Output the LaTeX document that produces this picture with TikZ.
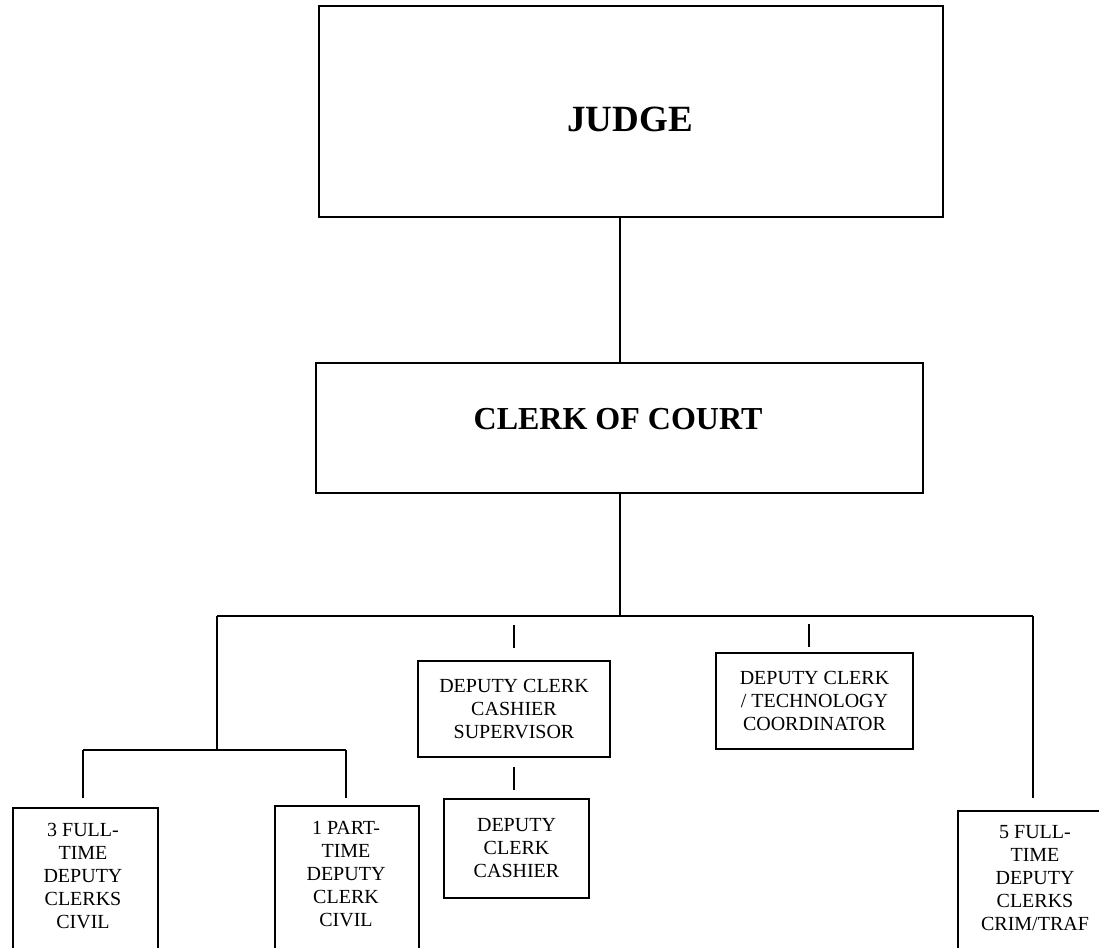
\documentclass[tikz,border=0pt]{standalone}
\usepackage{fontspec}
\setmainfont{Liberation Serif}
\begin{document}
\begin{tikzpicture}[x=1pt,y=-1pt,
  box/.style={draw, line width=2pt, inner sep=0pt},
  link/.style={line width=1.4pt},
  small/.style={font=\fontsize{20}{23}\selectfont, align=center, inner sep=0pt},
  title/.style={inner sep=0pt, anchor=base},
]
\useasboundingbox (0,0) rectangle (1099,947);
\clip (0,0) rectangle (1099,947);

% top two levels
\node[box, minimum width=624pt, minimum height=211pt] (judge) at (631,111.5) {};
\node[title, font=\fontsize{37}{44}\selectfont\bfseries] (judgetxt) at (630,131.5) {JUDGE};

\node[box, minimum width=607pt, minimum height=130pt] (clerk) at (619.5,428) {};
\node[title, font=\fontsize{32}{38}\selectfont\bfseries] (clerktxt) at (618,429.5) {CLERK OF COURT};

% connectors from the judge down to the bus
\coordinate (spine) at (620,0);
\coordinate (bus) at (620,616);
\coordinate (busL) at (217,616);
\coordinate (busR) at (1033,616);
\draw[link] (judge.south -| spine) -- (clerk.north -| spine);
\draw[link] (clerk.south -| spine) -- (bus);
\draw[link] (busL) -- (busR);

% civil branch
\coordinate (civ) at (217,750);
\coordinate (civL) at (83,750);
\coordinate (civR) at (346,750);
\coordinate (civLend) at (83,798);
\coordinate (civRend) at (346,798);
\draw[link] (busL) -- (civ);
\draw[link] (civL) -- (civR);
\draw[link] (civL) -- (civLend);
\draw[link] (civR) -- (civRend);

\node[box, anchor=north west, minimum width=145pt, minimum height=200pt] (full3) at (12,807) {};
\node[small, anchor=north] (full3txt) at (83,823.4) {3 FULL-\\TIME\\DEPUTY\\CLERKS\\CIVIL};

\node[box, anchor=north west, minimum width=144pt, minimum height=200pt] (part1) at (274,805) {};
\node[small, anchor=north] (part1txt) at (346,821.4) {1 PART-\\TIME\\DEPUTY\\CLERK\\CIVIL};

% cashier branch
\coordinate (supA) at (514,625);
\coordinate (supB) at (514,648);
\draw[link] (supA) -- (supB);
\node[box, small, minimum width=192pt, minimum height=96pt] (sup) at (514,709) {DEPUTY CLERK\\CASHIER\\SUPERVISOR};
\coordinate (cashA) at (514,767);
\coordinate (cashB) at (514,790);
\draw[link] (cashA) -- (cashB);
\node[box, small, minimum width=145pt, minimum height=99pt] (cash) at (516.5,848.5) {DEPUTY\\CLERK\\CASHIER};

% technology branch
\coordinate (techA) at (809,624);
\coordinate (techB) at (809,647);
\draw[link] (techA) -- (techB);
\node[box, small, minimum width=197pt, minimum height=96pt] (tech) at (814.5,701) {DEPUTY CLERK\\/ TECHNOLOGY\\COORDINATOR};

% criminal / traffic branch
\coordinate (crimEnd) at (1033,798);
\draw[link] (busR) -- (crimEnd);
\node[box, anchor=north west, minimum width=156pt, minimum height=200pt] (full5) at (957,810) {};
\node[small, anchor=north] (full5txt) at (1035,825.4) {5 FULL-\\TIME\\DEPUTY\\CLERKS\\CRIM/TRAF};
\end{tikzpicture}
\end{document}
